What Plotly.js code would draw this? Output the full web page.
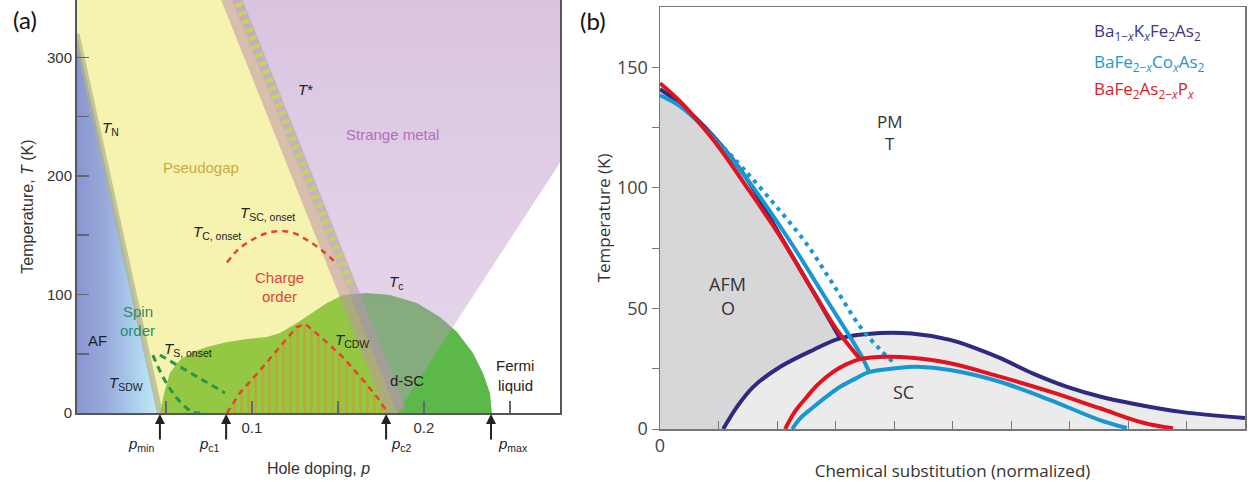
<!DOCTYPE html>
<html>
<head>
<meta charset="utf-8">
<script src="https://cdn.plot.ly/plotly-3.0.1.min.js"></script>
<style>
  html, body { margin: 0; padding: 0; background: #fff; }
  #chart { width: 1253px; height: 482px; }
</style>
</head>
<body>
<div id="chart"></div>
<script>
// ---------- Panel (a): cuprates, hole doping p vs temperature T (K) ----------
// Neel line T_N bounding the antiferromagnet
const tnP = [-0.002, 0.0465];
const tnT = [320, 0];
// Pseudogap crossover T*
const tStarP = [0.0852, 0.1843];
const tStarT = [360, 0];
const tStarHatchP = [0.0882, 0.1584];
const tStarHatchT = [360, 105];
// Strange metal / Fermi liquid crossover
const smEdgeP = [0.1843, 0.3458];
const smEdgeT = [0, 360];
// Superconducting region incl. the low-doping tail (T_c dome)
const scP = [0.0465, 0.0494, 0.0523, 0.0581, 0.0657, 0.0738, 0.0855, 0.0971, 0.1087, 0.1163, 0.1262,
             0.1355, 0.1436, 0.1529, 0.1669, 0.1802, 0.1959, 0.2093, 0.2192, 0.2285, 0.2343, 0.2384, 0.2395];
const scT = [0, 19.4, 33.8, 44.7, 51.5, 55.7, 59.9, 62.4, 64.1, 67.5, 75.9,
             85.2, 92.8, 99.6, 101.3, 99.6, 92.8, 81.0, 68.4, 50.6, 33.8, 16.9, 0];
// Charge density wave dome T_CDW
const cdwP = [0.0855, 0.093, 0.1047, 0.1163, 0.126, 0.131, 0.141, 0.153, 0.1645, 0.174, 0.179];
const cdwT = [0, 17, 36, 56, 72.5, 75, 63, 47, 28, 11, 0];
// Charge order onset T_C,onset
const cOnsetP = [0.0855, 0.092, 0.1, 0.108, 0.116, 0.124, 0.132, 0.141, 0.1494];
const cOnsetT = [127, 138, 146, 151.5, 153.5, 152, 146, 137, 126];
// Spin order lines
const sOnsetP = [0.0465, 0.0843];
const sOnsetT = [48.9, 16.9];
const sdwP = [0.0424, 0.0483, 0.0541, 0.060, 0.0657, 0.070];
const sdwT = [48.9, 30.4, 16.9, 6.8, 0.8, 0];
// Critical dopings marked under the axis
const critNames = ['min', 'c1', 'c2', 'max'];
const critP = [0.0465, 0.085, 0.178, 0.239];
const critLabelP = [0.0355, 0.0756, 0.187, 0.2517];
// Axis ticks
const aDopTicks = [0.05, 0.1, 0.15, 0.2, 0.25];
const aDopText = ['', '0.1', '', '0.2', ''];
const aTempTicks = [0, 50, 100, 150, 200, 250, 300];
const aTempText = ['0', '', '100', '', '200', '', '300'];

// ---------- Panel (b): iron pnictides, normalized substitution vs T (K) ----------
const kTnX = [0, 0.34, 0.91, 1.48, 2.05, 2.6, 3.08];
const kTnT = [141, 135, 121.5, 104, 80.5, 57.8, 37.6];
const kScX = [1.08, 1.31, 1.59, 2.05, 2.62, 3.08, 3.76, 4.3, 4.96, 5.4, 5.81, 6.38, 6.96, 7.52, 8.09, 8.94, 10];
const kScT = [0, 9, 17.4, 25.7, 32.8, 37.6, 39.8, 39.6, 37, 33.5, 29.5, 23, 17.5, 13.5, 10.5, 7, 4.6];
const coTnX = [0, 0.34, 0.91, 1.48, 2.22, 2.8, 3.28, 3.45, 3.57];
const coTnT = [138.5, 134, 121, 104, 78, 55.5, 37, 30, 24];
const coStructX = [1.08, 1.5, 2.0, 2.5, 2.96, 3.42, 3.76, 3.98];
const coStructT = [117, 106, 92, 77, 60, 42.5, 33, 27.9];
const coScX = [2.26, 2.4, 2.62, 2.85, 3.08, 3.35, 3.57, 4.05, 4.4, 4.96, 5.81, 6.67, 7.52, 7.98];
const coScT = [0, 4.5, 9, 13.5, 17.5, 21, 23.6, 25.3, 25.8, 24.5, 19.6, 12, 3.7, 0.4];
const pTnX = [0, 0.34, 0.91, 1.48, 2.05, 2.62, 3.0, 3.42];
const pTnT = [143.5, 136, 120, 100.5, 80, 57, 42, 29];
const pScX = [2.14, 2.3, 2.51, 2.7, 2.96, 3.2, 3.42, 3.88, 4.3, 4.96, 5.81, 6.67, 7.52, 8.26, 8.77];
const pScT = [0, 7, 13.3, 18.5, 23.7, 27, 29, 30, 29.6, 27.3, 21.7, 15.5, 8.6, 2.6, 0.3];
const bSubTicks = [0, 1, 2, 3, 4, 5, 6, 7, 8, 9, 10];
const bSubText = ['0', '', '', '', '', '', '', '', '', '', ''];
const bTempTicks = [0, 25, 50, 75, 100, 125, 150];
const bTempText = ['0', '', '50', '', '100', '', '150'];

const NAVY = '#2d2a80', BLUE = '#1797d4', RED = '#e0141f';
const FA = 'Liberation Sans, Arial, sans-serif';
const FB = 'Open Sans, sans-serif';

const traces = [];
const A = {xaxis: 'x', yaxis: 'y', hoverinfo: 'skip', showlegend: false};
const B = {xaxis: 'x2', yaxis: 'y2', hoverinfo: 'skip', showlegend: false};

// (a) superconducting region, drawn first so the phase overlays tint it
traces.push(Object.assign({}, A, {x: scP, y: scT, mode: 'lines', fill: 'toself',
  fillcolor: '#5cb848', line: {width: 0}}));
// (a) antiferromagnet with horizontal gradient
traces.push(Object.assign({}, A, {
  x: [-0.01, -0.01, tnP[0], tnP[1]], y: [0, tnT[0], tnT[0], 0],
  mode: 'lines', fill: 'toself', line: {width: 0},
  fillgradient: {type: 'horizontal',
    colorscale: [[0, '#848bca'], [0.45, '#98abdc'], [0.8, '#afd7f1'], [1, '#c6edf8']]}}));
// (a) pseudogap
traces.push(Object.assign({}, A, {
  x: [-0.01, tStarP[0], tStarP[1], tnP[1], tnP[0], -0.01],
  y: [360, tStarT[0], tStarT[1], tnT[1], tnT[0], tnT[0]],
  mode: 'lines', fill: 'toself', fillcolor: 'rgba(232,222,57,0.4)', line: {width: 0}}));
// (a) strange metal fan
traces.push(Object.assign({}, A, {
  x: [tStarP[0], smEdgeP[1], smEdgeP[0]], y: [tStarT[0], smEdgeT[1], smEdgeT[0]],
  mode: 'lines', fill: 'toself', line: {width: 0},
  fillgradient: {type: 'vertical',
    colorscale: [[0, 'rgba(195,158,205,0.4)'], [1, 'rgba(178,136,192,0.5)']]}}));
// (a) crossover bands
traces.push(Object.assign({}, A, {x: tnP, y: tnT, mode: 'lines',
  line: {color: 'rgba(178,180,135,0.7)', width: 6}}));
traces.push(Object.assign({}, A, {x: tStarP, y: tStarT, mode: 'lines',
  line: {color: 'rgba(190,150,170,0.55)', width: 20}}));
traces.push(Object.assign({}, A, {x: tStarHatchP, y: tStarHatchT, mode: 'lines',
  line: {color: '#bcd95c', width: 8, dash: '4px,5px'}}));
// (a) charge order hatch and boundaries
traces.push(Object.assign({}, A, {x: cdwP, y: cdwT, mode: 'lines', fill: 'toself',
  fillcolor: 'rgba(0,0,0,0)', line: {width: 0},
  fillpattern: {shape: '|', fgcolor: '#ef7d2e', bgcolor: 'rgba(0,0,0,0)', size: 7, solidity: 0.3, fillmode: 'overlay'}}));
traces.push(Object.assign({}, A, {x: cdwP, y: cdwT, mode: 'lines',
  line: {color: '#e5432f', width: 2.5, dash: '6px,5px'}}));
traces.push(Object.assign({}, A, {x: cOnsetP, y: cOnsetT, mode: 'lines', line: {shape: 'spline',
  color: '#e5432f', width: 2.5, dash: '6px,5px'}}));
// (a) spin order
traces.push(Object.assign({}, A, {x: sOnsetP, y: sOnsetT, mode: 'lines',
  line: {color: '#2a9646', width: 3, dash: '7px,5px'}}));
traces.push(Object.assign({}, A, {x: sdwP, y: sdwT, mode: 'lines', line: {shape: 'spline',
  color: '#2a9646', width: 3, dash: '7px,5px'}}));

// (b) superconducting envelope (light grey) and orthorhombic AFM (darker grey)
traces.push(Object.assign({}, B, {x: kScX.concat([10]), y: kScT.concat([0]), mode: 'lines',
  fill: 'toself', fillcolor: '#ebebeb', line: {width: 0}}));
const jx = kTnX[kTnX.length - 1];
const afmX = [0].concat(kTnX), afmT = [0].concat(kTnT);
for (let i = kScX.length - 1; i >= 0; i--) {
  if (kScX[i] < jx) { afmX.push(kScX[i]); afmT.push(kScT[i]); }
}
traces.push(Object.assign({}, B, {x: afmX, y: afmT, mode: 'lines', fill: 'toself',
  fillcolor: '#d7d7d9', line: {width: 0}}));
// (b) phase lines
const sp = (c, extra) => Object.assign({shape: 'spline', smoothing: 1, color: c, width: 4}, extra || {});
traces.push(Object.assign({}, B, {x: kTnX, y: kTnT, mode: 'lines', line: sp(NAVY)}));
traces.push(Object.assign({}, B, {x: kScX, y: kScT, mode: 'lines', line: sp(NAVY)}));
traces.push(Object.assign({}, B, {x: coTnX, y: coTnT, mode: 'lines', line: sp(BLUE)}));
traces.push(Object.assign({}, B, {x: coStructX, y: coStructT, mode: 'lines', line: sp(BLUE, {dash: '4px,5px'})}));
traces.push(Object.assign({}, B, {x: coScX, y: coScT, mode: 'lines', line: sp(BLUE)}));
traces.push(Object.assign({}, B, {x: pTnX, y: pTnT, mode: 'lines', line: sp(RED)}));
traces.push(Object.assign({}, B, {x: pScX, y: pScT, mode: 'lines', line: sp(RED)}));

// ---------- annotations ----------
const ann = [];
function labA(x, y, text, color, size) {
  ann.push({xref: 'x', yref: 'y', x: x, y: y, text: text, showarrow: false,
    xanchor: 'center', yanchor: 'middle',
    font: {family: FA, size: size || 15, color: color || '#222'}});
}
function labB(x, y, text, color, size, anchor) {
  ann.push({xref: 'x2', yref: 'y2', x: x, y: y, text: text, showarrow: false,
    xanchor: anchor || 'center', yanchor: 'middle',
    font: {family: FB, size: size || 18, color: color || '#333'}});
}
labA(0.018, 240, '<i>T</i><sub>N</sub>');
labA(0.0703, 207, 'Pseudogap', '#c6ad3f');
labA(0.131, 272.6, '<i>T</i>*');
labA(0.182, 235.4, 'Strange metal', '#b070bb');
labA(0.109, 168, '<i>T</i><sub>SC, onset</sub>');
labA(0.0797, 152.7, '<i>T</i><sub>C, onset</sub>');
labA(0.116, 114, 'Charge', '#e0473a');
labA(0.116, 98, 'order', '#e0473a');
labA(0.184, 110.5, '<i>T</i><sub>c</sub>');
labA(0.0337, 86, 'Spin', '#2b8c6a');
labA(0.0337, 70, 'order', '#2b8c6a');
labA(0.0105, 60.8, 'AF');
labA(0.0628, 54, '<i>T</i><sub>S, onset</sub>');
labA(0.0267, 25.3, '<i>T</i><sub>SDW</sub>');
labA(0.158, 61.6, '<i>T</i><sub>CDW</sub>');
labA(0.19, 27.8, 'd-SC');
labA(0.253, 39.7, 'Fermi');
labA(0.253, 23.6, 'liquid');
for (let i = 0; i < critP.length; i++) {
  ann.push({xref: 'x', yref: 'y', x: critP[i], y: 0, text: '', showarrow: true,
    ax: 0, ay: 28, arrowhead: 2, arrowsize: 1, arrowwidth: 2, arrowcolor: '#222', standoff: 1});
  ann.push({xref: 'x', yref: 'paper', x: critLabelP[i], y: 1 - 444 / 482,
    text: '<i>p</i><sub>' + critNames[i] + '</sub>', showarrow: false,
    xanchor: 'center', yanchor: 'middle', font: {family: FA, size: 15, color: '#222'}});
}
labB(3.93, 127.4, 'PM', '#333', 17);
labB(3.93, 118.3, 'T', '#333', 17);
labB(1.16, 60.2, 'AFM');
labB(1.16, 50.2, 'O');
labB(4.17, 15.4, 'SC');
labB(7.385, 165.1, 'Ba<sub>1−<i>x</i></sub>K<sub><i>x</i></sub>Fe<sub>2</sub>As<sub>2</sub>', '#3d3585', 17, 'left');
labB(7.385, 151.9, 'BaFe<sub>2−<i>x</i></sub>Co<sub><i>x</i></sub>As<sub>2</sub>', '#1c97cf', 17, 'left');
labB(7.385, 140.7, 'BaFe<sub>2</sub>As<sub>2−<i>x</i></sub>P<sub><i>x</i></sub>', '#d9222b', 17, 'left');
ann.push({xref: 'paper', yref: 'paper', x: 25 / 1253, y: 1 - 20 / 482, text: '(a)', showarrow: false,
  xanchor: 'center', yanchor: 'middle', font: {family: 'Lato, sans-serif', size: 24, color: '#111'}});
ann.push({xref: 'paper', yref: 'paper', x: 593 / 1253, y: 1 - 21 / 482, text: '(b)', showarrow: false,
  xanchor: 'center', yanchor: 'middle', font: {family: 'Lato, sans-serif', size: 24, color: '#111'}});

const layout = {
  width: 1253, height: 482,
  margin: {l: 0, r: 0, t: 0, b: 0},
  paper_bgcolor: '#fff', plot_bgcolor: 'rgba(0,0,0,0)',
  showlegend: false, hovermode: false,
  xaxis: {domain: [77 / 1253, 560 / 1253], range: [-0.0017, 0.2791], anchor: 'y',
    showline: true, linecolor: '#55555f', linewidth: 2, mirror: false,
    ticks: 'inside', ticklen: 12, tickwidth: 1.5, tickcolor: '#66666e',
    tickvals: aDopTicks, ticktext: aDopText, tickfont: {family: FA, size: 15, color: '#333'},
    showgrid: false, zeroline: false, fixedrange: true,
    title: {text: 'Hole doping, <i>p</i>', font: {family: FA, size: 16, color: '#333'}, standoff: 28}},
  yaxis: {domain: [69 / 482, 1], range: [0, 348.5], anchor: 'x',
    showline: true, linecolor: '#55555f', linewidth: 2, mirror: true,
    ticks: 'inside', ticklen: 12, tickwidth: 1.5, tickcolor: '#66666e',
    tickvals: aTempTicks, ticktext: aTempText, tickfont: {family: FA, size: 15, color: '#333'},
    showgrid: false, zeroline: false, fixedrange: true,
    title: {text: 'Temperature, <i>T</i> (K)', font: {family: FA, size: 16, color: '#333'}, standoff: 9}},
  xaxis2: {domain: [660 / 1253, 1245 / 1253], range: [0, 10], anchor: 'y2',
    showline: true, linecolor: '#777', linewidth: 1.5, mirror: true,
    ticks: 'inside', ticklen: 8, tickwidth: 1, tickcolor: '#777',
    tickvals: bSubTicks, ticktext: bSubText, tickfont: {family: FB, size: 18, color: '#444'},
    showgrid: false, zeroline: false, fixedrange: true,
    title: {text: 'Chemical substitution (normalized)', font: {family: FB, size: 17, color: '#333'}, standoff: 10}},
  yaxis2: {domain: [53 / 482, 475 / 482], range: [0, 175.1], anchor: 'x2',
    showline: true, linecolor: '#777', linewidth: 1.5, mirror: true,
    ticks: 'outside', ticklen: 7, tickwidth: 1, tickcolor: '#777',
    tickvals: bTempTicks, ticktext: bTempText, tickfont: {family: FB, size: 18, color: '#444'},
    showgrid: false, zeroline: false, fixedrange: true,
    title: {text: 'Temperature (K)', font: {family: FB, size: 17, color: '#333'}, standoff: 2}},
  annotations: ann
};

Plotly.newPlot('chart', traces, layout, {staticPlot: true, displayModeBar: false});
</script>
</body>
</html>
